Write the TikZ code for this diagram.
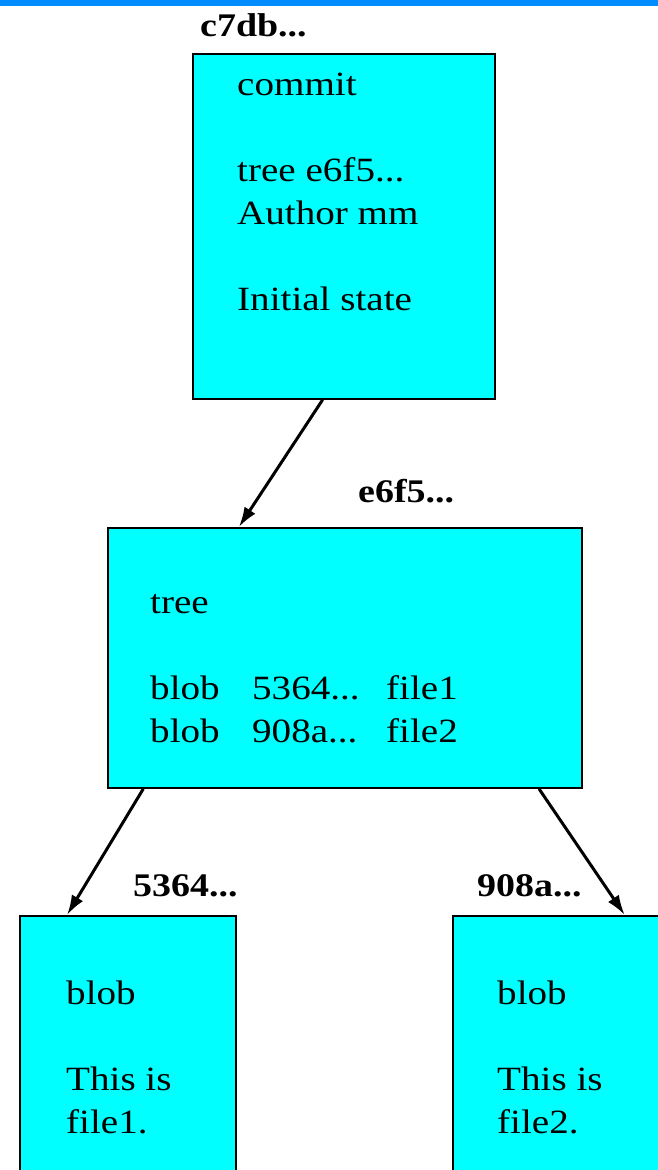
\documentclass[tikz,border=0pt]{standalone}
\usepackage{fontspec}
\usetikzlibrary{arrows.meta}
\newfontfamily\objfont[FakeStretch=1.15]{Liberation Serif}
\definecolor{objfill}{RGB}{0,255,255}
\definecolor{barblue}{RGB}{0,140,255}
\tikzstyle{obj} = [draw=black,fill=objfill,line width=1.8pt,rectangle,anchor=north west,inner sep=0pt]
\tikzstyle{hash} = [font={\objfont\bfseries\fontsize{33}{40}\selectfont},anchor=base west,inner sep=0pt]
\tikzstyle{body} = [font={\objfont\fontsize{34}{43}\selectfont},align=left,anchor=base west,inner sep=0pt]
\tikzstyle{link} = [-{Latex[length=20pt,width=13pt]},line width=3pt]
\newcommand{\entry}[3]{\makebox[102pt][l]{#1}\makebox[134pt][l]{#2}#3}

\begin{document}
\begin{tikzpicture}[x=1pt,y=-1pt]
				\useasboundingbox (0,0) rectangle (658,1170);
				\clip (0,0) rectangle (658,1170);
				\fill [barblue] (0,0) rectangle (658,6);
				% objects
				\node (commit) [obj,minimum width=302pt,minimum height=345pt] at (192,53) {};
				\node (tree) [obj,minimum width=474pt,minimum height=260pt] at (107,527) {};
				\node (blob1) [obj,minimum width=216pt,minimum height=285pt] at (19,915) {};
				\node (blob2) [obj,minimum width=216pt,minimum height=285pt] at (452,915) {};
				% hashes
				\node (commit_id) [hash] at (200,36) {c7db...};
				\node (tree_id) [hash] at (358,502) {e6f5...};
				\node (blob1_id) [hash] at (133,896) {5364...};
				\node (blob2_id) [hash] at (477,896) {908a...};
				% contents (base = last line)
				\node (commit_txt) [body] at (237,310) {commit\\[43pt]tree e6f5...\\Author mm\\[43pt]Initial state};
				\node (tree_txt) [body] at (150,742) {tree\\[43pt]\entry{blob}{5364...}{file1}\\\entry{blob}{908a...}{file2}};
				\node (blob1_txt) [body] at (66,1133) {blob\\[43pt]This is\\file1.};
				\node (blob2_txt) [body] at (497,1133) {blob\\[43pt]This is\\file2.};
				\draw [link] (commit.263) -- (tree.129);
				\draw [link] (tree.213.6) -- (blob1.113.5);
				\draw [link] (tree.326) -- (blob2.66.1);
			\end{tikzpicture}
\end{document}
